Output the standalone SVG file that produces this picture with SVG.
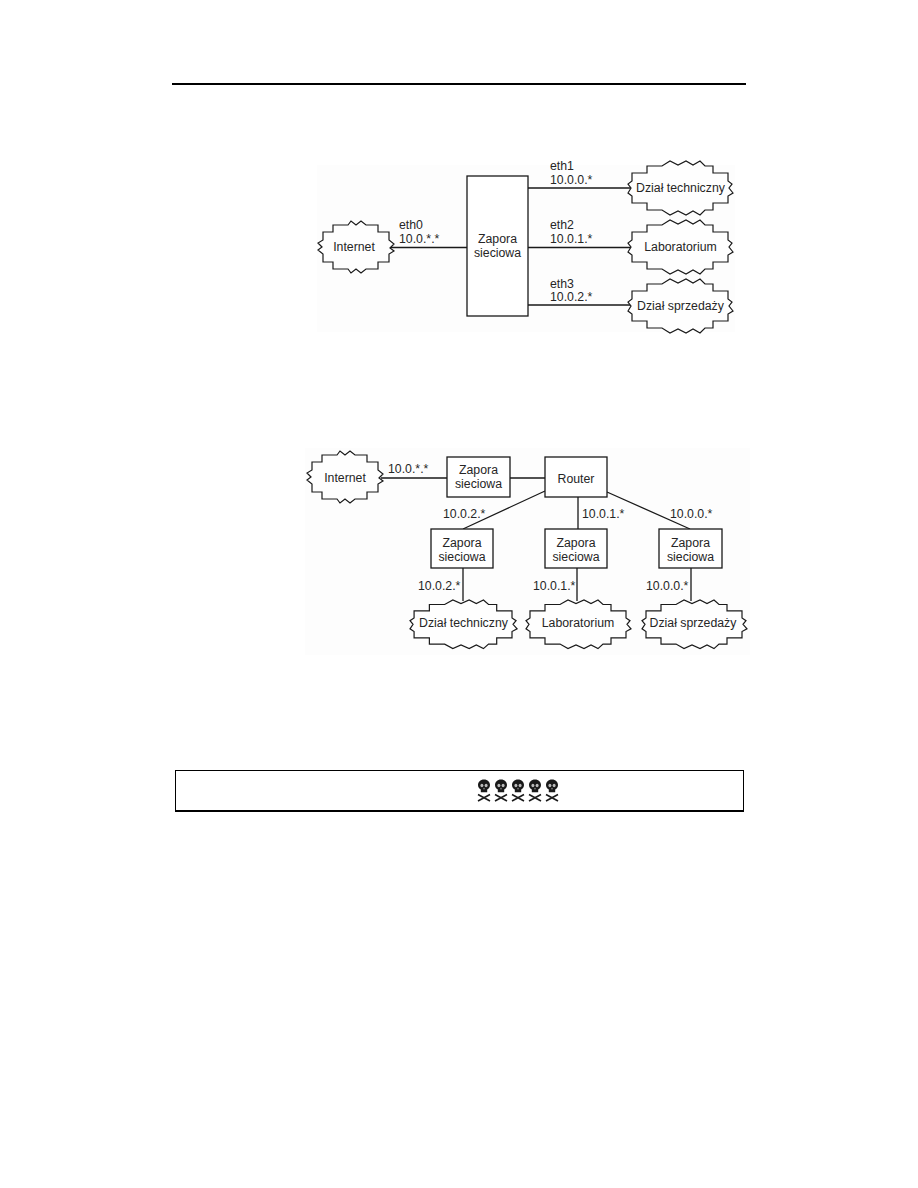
<svg xmlns="http://www.w3.org/2000/svg" width="918" height="1188" viewBox="0 0 918 1188">
<style>
text{font-family:"Liberation Sans",Arial,sans-serif;font-size:12.300px;fill:#262626}
.c{text-anchor:middle}
.b{fill:#fff;stroke:#1a1a1a;stroke-width:1.300}
.k{fill:#fefefe;stroke:#1a1a1a;stroke-width:1.200;vector-effect:non-scaling-stroke;stroke-linejoin:miter}
.l{stroke:#1a1a1a;stroke-width:1.300;fill:none}
.r{fill:#000}
</style>
<defs>
<path id="cloud" class="k" d="M4 20V12H19V5H34L42 0L50 4L58 0L65 4L72 0L77 5H85V12H100V20L104 23L101 27L105 32L100 35V42H85V49H77L72 54L65 50L58 54L50 50L42 54L34 49H19V42H4V35L0 32L3 27L0 23Z"/>
<path id="cloud-s" class="k" d="M7 19V11H17V4H32L35 0L40 4L45 0L50 4H62V11H73V19L78 23L74 27L78 30L73 33V41H62V48H50L45 52L40 48L35 52L32 48H17V41H7V33L2 29L6 26L2 22Z"/>
<g id="skull">
<path d="M6 0C2.300 0 0 2.500 0 5.500C0 7.700 1.200 9 2.800 10V12.800H9.200V10C10.800 9 12 7.700 12 5.500C12 2.500 9.700 0 6 0Z" fill="#1a1a1a"/>
<ellipse cx="3.900" cy="6" rx="1.500" ry="1.700" fill="#bbb"/>
<ellipse cx="8.100" cy="6" rx="1.500" ry="1.700" fill="#bbb"/>
<path d="M6 8L5.200 9.800H6.800Z" fill="#bbb"/>
<path d="M0 15L12 21.500M12 15L0 21.500" stroke="#1a1a1a" stroke-width="1.600" fill="none"/>
</g>
</defs>
<rect width="918" height="1188" fill="#fff"/>
<rect x="317" y="165" width="418" height="167" fill="#fdfdfd"/>
<rect x="305" y="448" width="445" height="207" fill="#fdfdfd"/>
<rect x="172" y="83" width="574" height="2" class="r"/>
<g id="connectors">
<path class="l" d="M391 247.500H467M528 188H631M528 247.500H631M528 305H631"/>
<path class="l" d="M381 478H447M510 478H545M545 491L463 529M578 497V529M607 492L690 529M463 568V601M577 568V601M691 568V601"/>
</g>
<g id="n-internet1"><use href="#cloud-s" transform="translate(316 221)"/><text class="c" x="354" y="251">Internet</text></g>
<g id="n-zapora1"><rect class="b" x="467" y="176" width="61" height="140"/><text class="c" x="497.500" y="243">Zapora</text><text class="c" x="497.500" y="257">sieciowa</text></g>
<g id="n-tech1"><use href="#cloud" transform="translate(628 161)"/><text class="c" x="680.500" y="192">Dział techniczny</text></g>
<g id="n-lab1"><use href="#cloud" transform="translate(628 220)"/><text class="c" x="680.500" y="251">Laboratorium</text></g>
<g id="n-sprz1"><use href="#cloud" transform="translate(628 279)"/><text class="c" x="680.500" y="310">Dział sprzedaży</text></g>
<g id="labels1">
<text x="399" y="229">eth0</text><text x="399" y="243">10.0.*.*</text>
<text x="550" y="170">eth1</text><text x="550" y="184">10.0.0.*</text>
<text x="550" y="229">eth2</text><text x="550" y="243">10.0.1.*</text>
<text x="550" y="288">eth3</text><text x="550" y="301">10.0.2.*</text>
</g>
<g id="n-internet2"><use href="#cloud-s" transform="translate(305 451)"/><text class="c" x="345" y="482">Internet</text></g>
<g id="n-zapora2"><rect class="b" x="447" y="457" width="63" height="40"/><text class="c" x="478.500" y="474">Zapora</text><text class="c" x="478.500" y="488">sieciowa</text></g>
<g id="n-router"><rect class="b" x="545" y="457" width="62" height="40"/><text class="c" x="576" y="483">Router</text></g>
<g id="n-zapora3"><rect class="b" x="431" y="529" width="62" height="39"/><text class="c" x="462" y="547">Zapora</text><text class="c" x="462" y="561">sieciowa</text></g>
<g id="n-zapora4"><rect class="b" x="545" y="529" width="62" height="39"/><text class="c" x="576" y="547">Zapora</text><text class="c" x="576" y="561">sieciowa</text></g>
<g id="n-zapora5"><rect class="b" x="659" y="529" width="63" height="39"/><text class="c" x="690.500" y="547">Zapora</text><text class="c" x="690.500" y="561">sieciowa</text></g>
<g id="n-tech2"><use href="#cloud" transform="translate(410 600) scale(1.020 .9)"/><text class="c" x="463.500" y="627">Dział techniczny</text></g>
<g id="n-lab2"><use href="#cloud" transform="translate(526 600) scale(1 .9)"/><text class="c" x="578" y="627">Laboratorium</text></g>
<g id="n-sprz2"><use href="#cloud" transform="translate(642 600) scale(1 .9)"/><text class="c" x="693" y="627">Dział sprzedaży</text></g>
<g id="labels2">
<text x="388" y="473">10.0.*.*</text>
<text x="443" y="518">10.0.2.*</text><text x="582" y="518">10.0.1.*</text><text x="670" y="518">10.0.0.*</text>
<text x="418" y="590">10.0.2.*</text><text x="533" y="590">10.0.1.*</text><text x="646" y="590">10.0.0.*</text>
</g>
<g id="rating">
<rect x="175" y="770" width="569" height="1" class="r"/>
<rect x="175" y="810" width="569" height="2" class="r"/>
<rect x="175" y="770" width="1" height="41" class="r"/>
<rect x="743" y="770" width="1" height="41" class="r"/>
<use href="#skull" x="478" y="779.500"/><use href="#skull" x="495" y="779.500"/><use href="#skull" x="512" y="779.500"/><use href="#skull" x="529" y="779.500"/><use href="#skull" x="546" y="779.500"/>
</g>
</svg>
